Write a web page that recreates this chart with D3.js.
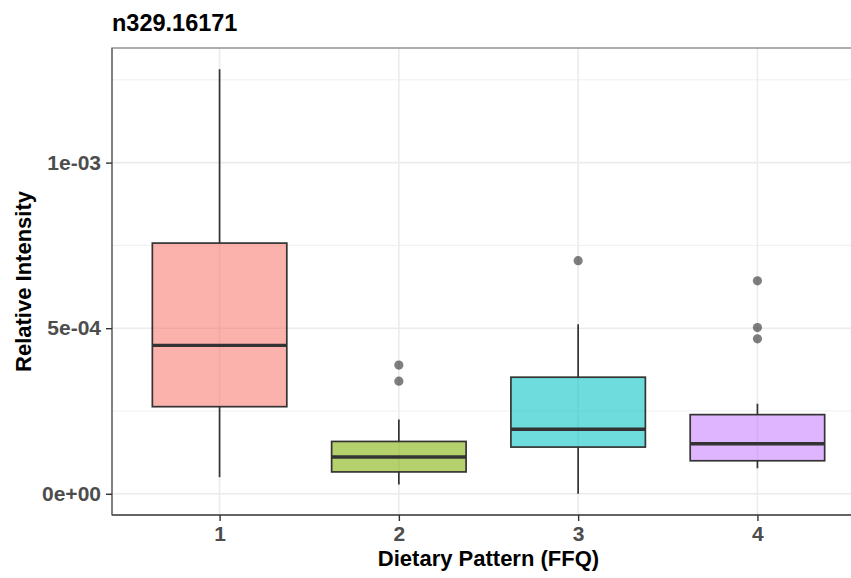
<!DOCTYPE html>
<html>
<head>
<meta charset="utf-8">
<script src="https://cdn.jsdelivr.net/npm/d3@7"></script>
<style>
  html, body { margin: 0; padding: 0; background: #fff; }
  svg { display: block; font-family: "Liberation Sans", Arial, Helvetica, sans-serif; }
</style>
</head>
<body>
<svg id="chart" width="851" height="578"></svg>
<script>
// Relative intensity of feature n329.16171 by dietary pattern group
const groups = ["1", "2", "3", "4"];
const fills = ["#F8766D", "#7CAE00", "#00BFC4", "#C77CFF"];
const whiskerLow  = [5.0e-5, 2.8e-5, 0.0,    7.7e-5];
const q1          = [2.63e-4, 6.6e-5, 1.41e-4, 9.97e-5];
const median      = [4.48e-4, 1.11e-4, 1.95e-4, 1.51e-4];
const q3          = [7.57e-4, 1.58e-4, 3.52e-4, 2.39e-4];
const whiskerHigh = [1.282e-3, 2.245e-4, 5.12e-4, 2.72e-4];
const outliers = [
  [],
  [3.885e-4, 3.40e-4],
  [7.04e-4],
  [6.43e-4, 5.02e-4, 4.68e-4]
];
const yTicks = [0, 5e-4, 1e-3];
const yMinor = [2.5e-4, 7.5e-4, 1.25e-3];
const yTickLabels = ["0e+00", "5e-04", "1e-03"];

const svg = d3.select("#chart");
const panel = { left: 112, top: 48, right: 865, bottom: 515 };

// ggplot-style discrete x with 0.6 expansion
const x = d3.scalePoint().domain(groups)
  .range([panel.left, panel.right]).padding(0.6);
const step = x.step();

const dataMin = d3.min(whiskerLow), dataMax = d3.max(whiskerHigh);
const pad = (dataMax - dataMin) * 0.05;
const y = d3.scaleLinear().domain([dataMin - pad, dataMax + pad])
  .range([panel.bottom, panel.top]);

const g = svg.append("g");

// clip content to the panel
svg.append("defs").append("clipPath").attr("id", "clip")
  .append("rect").attr("x", panel.left).attr("y", panel.top)
  .attr("width", panel.right - panel.left).attr("height", panel.bottom - panel.top);

const grid = g.append("g").attr("clip-path", "url(#clip)");
grid.selectAll("line.minor").data(yMinor).join("line")
  .attr("x1", panel.left).attr("x2", panel.right)
  .attr("y1", d => y(d)).attr("y2", d => y(d))
  .attr("stroke", "#EBEBEB").attr("stroke-width", 0.8);
grid.selectAll("line.major").data(yTicks).join("line")
  .attr("x1", panel.left).attr("x2", panel.right)
  .attr("y1", d => y(d)).attr("y2", d => y(d))
  .attr("stroke", "#EBEBEB").attr("stroke-width", 1.6);
grid.selectAll("line.vmajor").data(groups).join("line")
  .attr("x1", d => x(d)).attr("x2", d => x(d))
  .attr("y1", panel.top).attr("y2", panel.bottom)
  .attr("stroke", "#EBEBEB").attr("stroke-width", 1.6);

// boxplots
const boxes = g.append("g").attr("clip-path", "url(#clip)");
const bw = step * 0.75;
groups.forEach((grp, i) => {
  const cx = x(grp);
  const bx = boxes.append("g");
  bx.append("line")
    .attr("x1", cx).attr("x2", cx)
    .attr("y1", y(q3[i])).attr("y2", y(whiskerHigh[i]))
    .attr("stroke", "#333").attr("stroke-width", 1.7);
  bx.append("line")
    .attr("x1", cx).attr("x2", cx)
    .attr("y1", y(q1[i])).attr("y2", y(whiskerLow[i]))
    .attr("stroke", "#333").attr("stroke-width", 1.7);
  bx.append("rect")
    .attr("x", cx - bw / 2).attr("width", bw)
    .attr("y", y(q3[i])).attr("height", y(q1[i]) - y(q3[i]))
    .attr("fill", fills[i]).attr("fill-opacity", 0.57)
    .attr("stroke", "#333").attr("stroke-width", 1.7);
  bx.append("line")
    .attr("x1", cx - bw / 2).attr("x2", cx + bw / 2)
    .attr("y1", y(median[i])).attr("y2", y(median[i]))
    .attr("stroke", "#333").attr("stroke-width", 3.4);
  bx.selectAll("circle").data(outliers[i]).join("circle")
    .attr("cx", cx).attr("cy", d => y(d)).attr("r", 4.6)
    .attr("fill", "#000").attr("fill-opacity", 0.5);
});

// panel border and axis lines
g.append("rect")
  .attr("x", panel.left).attr("y", panel.top)
  .attr("width", panel.right - panel.left).attr("height", panel.bottom - panel.top)
  .attr("fill", "none").attr("stroke", "#8c8c8c").attr("stroke-width", 1.4);
g.append("line")
  .attr("x1", panel.left).attr("x2", panel.left)
  .attr("y1", panel.top).attr("y2", panel.bottom)
  .attr("stroke", "#6e6e6e").attr("stroke-width", 1.4);
g.append("line")
  .attr("x1", panel.left).attr("x2", panel.right)
  .attr("y1", panel.bottom).attr("y2", panel.bottom)
  .attr("stroke", "#4d4d4d").attr("stroke-width", 1.4);

// axes
const yAxis = d3.axisLeft(y).tickValues(yTicks)
  .tickFormat((d, i) => yTickLabels[i]).tickSize(6).tickPadding(5);
const ya = g.append("g").attr("transform", `translate(${panel.left},0)`).call(yAxis);
ya.select(".domain").remove();
ya.selectAll(".tick line").attr("stroke", "#333").attr("stroke-width", 1.4);
ya.selectAll(".tick text")
  .attr("font-size", 21).attr("font-weight", "bold").attr("fill", "#4D4D4D")
  .attr("font-family", "Liberation Sans, Arial, sans-serif");

const xAxis = d3.axisBottom(x).tickSize(6).tickPadding(5);
const xa = g.append("g").attr("transform", `translate(0,${panel.bottom})`).call(xAxis);
xa.select(".domain").remove();
xa.selectAll(".tick line").attr("stroke", "#333").attr("stroke-width", 1.4);
xa.selectAll(".tick text")
  .attr("font-size", 21).attr("font-weight", "bold").attr("fill", "#4D4D4D")
  .attr("font-family", "Liberation Sans, Arial, sans-serif");

// titles
svg.append("text")
  .attr("x", panel.left).attr("y", 31)
  .attr("font-size", 23.5).attr("font-weight", "bold").attr("fill", "#000")
  .text("n329.16171");

svg.append("text")
  .attr("x", (panel.left + panel.right) / 2).attr("y", 566)
  .attr("text-anchor", "middle")
  .attr("font-size", 22).attr("font-weight", "bold").attr("fill", "#000")
  .text("Dietary Pattern (FFQ)");

svg.append("text")
  .attr("transform", `translate(31,${(panel.top + panel.bottom) / 2}) rotate(-90)`)
  .attr("text-anchor", "middle")
  .attr("font-size", 22).attr("font-weight", "bold").attr("fill", "#000")
  .text("Relative Intensity");
</script>
</body>
</html>
